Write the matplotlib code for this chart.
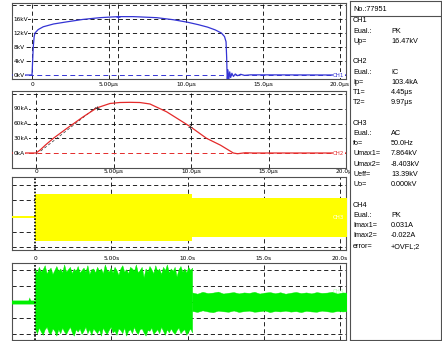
import numpy as np
import matplotlib.pyplot as plt

W, H = 442, 341

BLUE = '#3434d4'
RED = '#e42a2a'
YELLOW = '#ffff00'
GREEN = '#00f000'

#  CH1: chopped impulse voltage (us, kV)
CH1_T = [-1.4, 0.0, 0.03, 0.08, 0.14, 0.19, 0.4, 0.73, 1.4, 2.25, 3.3, 4.4,
         5.58, 6.6, 8.1, 9.2, 10.1, 10.8, 11.4, 11.9, 12.3, 12.5, 12.6,
         12.64, 12.68, 12.72, 12.78, 12.84, 12.9, 12.98, 13.08, 13.2, 13.35,
         13.55, 13.8, 14.2, 20.5]
CH1_V = [0, 0, 3.0, 8.0, 11.0, 12.0, 13.0, 13.8, 14.6, 15.2, 15.9, 16.4,
         16.7, 16.7, 16.4, 15.8, 15.1, 14.4, 13.7, 12.9, 12.0, 11.0, 9.5,
         5.0, -2.0, 1.5, -1.3, 0.9, -0.7, 0.5, -0.4, 0.3, -0.2, 0.2, -0.1,
         0.05, 0]

#  CH2: impulse current (us, kA)
CH2_T = [-1.6, 0.0, 0.26, 0.6, 1.12, 1.98, 3.05, 3.92, 4.77, 5.4, 6.06,
         6.7, 7.35, 8.43, 9.94, 11.0, 11.9, 12.73, 13.0, 13.5, 14.0, 20.1]
CH2_I = [0, 0, 6, 16, 30, 50, 74, 92, 101, 103, 103.4, 103, 100, 84, 54,
         30, 16, 0, -1.5, 0.5, 0, 0]
CH2_FRONT_T = [0.3, 3.95]
CH2_FRONT_I = [4, 95]
CH2_MARK_T = [3.92, 9.94]
CH2_MARK_I = [92, 54]

#  CH3: AC voltage envelope (s, kV)
CH3_T = [-1.6, 0.0, 0.0, 10.3, 10.3, 20.5]
CH3_UP = [0.1, 0.1, 7.0, 7.0, 5.7, 5.7]
CH3_LO = [-0.7, -0.7, -7.9, -7.9, -6.8, -6.8]

#  CH4: leakage current envelope (s, mA)
CH4_PRE_T = [-1.6, -0.45, -0.38, -0.3, 0.0]
CH4_PRE_UP = [1.2, 1.2, 3.2, 1.2, 1.2]
CH4_PRE_LO = [-1.2, -1.2, -1.2, -1.2, -1.2]
CH4_A_UP = [21, 18.5, 22, 19, 20.5, 23, 18, 20, 21.5, 17.5, 20, 22.5, 19.5,
            21, 18.5, 23.5, 19, 20.5, 22, 18, 21, 19.5, 22.5, 18.5, 20, 21.5,
            19, 23, 17.5, 20.5, 21, 18.5, 22, 19.5, 21, 18, 23.5, 20, 19,
            21.5, 18.5, 22, 20, 17, 21, 23, 19, 20.5, 18, 22, 21, 19.5, 23.5,
            18.5, 20, 22, 15.5, 21, 19, 22.5, 20.5, 18, 23, 19.5, 21, 17.5,
            22, 20, 23.5, 18.5, 21, 19.5, 22, 16, 20.5, 22.5, 19, 21, 18.5,
            22, 20, 21.5]
CH4_A_LO = [-17, -19.5, -16, -18.5, -20.5, -17, -15.5, -19, -20, -16.5,
            -18, -21, -17, -19.5, -16, -18.5, -20, -17.5, -15.5, -19,
            -21, -17, -18.5, -16.5, -20, -18, -15.5, -19.5, -17, -20.5,
            -16.5, -18, -19.5, -17, -21, -16, -18.5, -20, -17.5, -15.5,
            -19, -18, -20.5, -16.5, -17.5, -19.5, -16, -21, -18, -17,
            -19.5, -15.5, -18.5, -20, -17, -16.5, -19, -21, -17.5, -18,
            -16, -20, -18.5, -17, -19.5, -15.5, -18, -20.5, -17, -19,
            -16.5, -18.5, -20, -17.5, -16, -19.5, -18, -17, -20.5, -18.5,
            -16.5, -19]
CH4_B_UP = [6.0, 5.2, 6.4, 5.6, 5.9, 6.5, 5.3, 5.8, 6.2, 5.4, 6.0, 5.7,
            6.4, 5.3, 5.9, 6.2, 5.5, 6.1, 5.2, 5.8, 6.3, 5.6, 6.0, 5.4,
            6.2, 5.7, 5.9, 6.4, 5.3, 6.0, 5.8]
CH4_B_LO = [-5.6, -6.2, -5.2, -5.9, -6.4, -5.4, -5.8, -6.1, -5.3, -6.2,
            -5.7, -5.4, -6.1, -5.8, -5.3, -6.3, -5.6, -5.9, -5.4, -6.0,
            -5.7, -6.3, -5.5, -5.9, -6.1, -5.4, -5.8, -6.2, -5.6, -5.9, -5.7]

TIME_TICKS = [0, 5, 10, 15, 20]
US_LABELS = ['0', '5.00\u00b5s', '10.0\u00b5s', '15.0\u00b5s', '20.0\u00b5s']
S_LABELS = ['0', '5.00s', '10.0s', '15.0s', '20.0s']

#  (name, value, line number) - blank lines between channel groups
INFO_LINES = [('CH1', '', 0), ('Eual.:', 'PK', 1), ('Up=', '16.47kV', 2),
              ('CH2', '', 4), ('Eual.:', 'IC', 5), ('Ip=', '103.4kA', 6),
              ('T1=', '4.45\u00b5s', 7), ('T2=', '9.97\u00b5s', 8),
              ('CH3', '', 10), ('Eual.:', 'AC', 11), ('fo=', '50.0Hz', 12),
              ('Umax1=', '7.864kV', 13), ('Umax2=', '-8.403kV', 14),
              ('Ueff=', '13.39kV', 15), ('Uo=', '0.000kV', 16),
              ('CH4', '', 18), ('Eual.:', 'PK', 19),
              ('Imax1=', '0.031A', 20), ('Imax2=', '-0.022A', 21),
              ('error=', '+OVFL;2', 22)]

GRID = dict(color='black', lw=0.6, ls=(0, (5, 3.5)), zorder=1)
INFO_FONT = dict(fontsize=5.2, family='Liberation Sans', va='baseline')

FIG = plt.figure(figsize=(W / 100, H / 100), dpi=100)


def panel(left, top, right, bottom, xlim, ylim):
    """Axes placed by pixel box"""
    axis = FIG.add_axes([left / W, 1 - bottom / H,
                         (right - left) / W, (bottom - top) / H])
    axis.set_xlim(xlim)
    axis.set_ylim(ylim)
    axis.set_yticks([])
    for spine in axis.spines.values():
        spine.set_color('#505050')
        spine.set_linewidth(0.8)
    return axis


def grid(axis, xs, ys, trigger=False):
    """Oscilloscope style dashed grid"""
    for x_value in xs:
        if trigger and x_value == 0:
            axis.axvline(0, color='black', lw=1.2, ls=(0, (1, 1)), zorder=4)
        else:
            axis.axvline(x_value, **GRID)
    for y_value in ys:
        axis.axhline(y_value, **GRID)


def time_labels(axis, labels, pad):
    axis.set_xticks(TIME_TICKS)
    axis.set_xticklabels(labels)
    axis.tick_params(axis='x', length=0, pad=pad, labelsize=4.2)


def y_labels(axis, values, unit):
    for value in values:
        axis.text(0.004, value, '%d%s' % (value, unit), fontsize=4.2,
                  ha='left', va='center',
                  transform=axis.get_yaxis_transform(), zorder=5,
                  bbox=dict(fc='white', ec='none', pad=0.2))


def channel_tag(axis, text, y_value, colour, bg):
    axis.text(0.995, y_value, text, fontsize=4, color=colour, ha='right',
              va='center', transform=axis.get_yaxis_transform(), zorder=6,
              bbox=None if bg is None else dict(fc=bg, ec='none', pad=0.3))


#  Panel 1
AX1 = panel(12, 3, 346, 79, (-1.30, 20.39), (-1.14, 20.6))
grid(AX1, TIME_TICKS + [5.58], [4, 8, 12, 16, 20])
AX1.axhline(0, color=BLUE, lw=0.7, ls=(0, (5, 3.5)), zorder=1)
AX1.plot(CH1_T, CH1_V, color=BLUE, lw=0.9, zorder=3)
AX1.plot([5.58], [16.7], marker='+', ms=3, mew=0.6, color=BLUE, zorder=3)
y_labels(AX1, [16, 12, 8, 4, 0], 'kV')
channel_tag(AX1, 'CH1', 0, BLUE, 'white')
time_labels(AX1, US_LABELS, 2.5)

#  Panel 2
AX2 = panel(12, 91, 346, 168, (-1.55, 20.0), (-30.6, 126.5))
grid(AX2, TIME_TICKS, [-30, 30, 60, 90, 120])
AX2.axhline(0, color=RED, lw=0.7, ls=(0, (5, 3.5)), zorder=1)
AX2.plot(CH2_FRONT_T, CH2_FRONT_I, color='#303030', lw=0.5,
         ls=(0, (4, 3)), zorder=2)
AX2.plot(CH2_T, CH2_I, color=RED, lw=0.9, zorder=3)
AX2.plot(CH2_MARK_T, CH2_MARK_I, ls='none', marker='+', ms=3, mew=0.6,
         color='#303030', zorder=4)
y_labels(AX2, [90, 60, 30, 0], 'kA')
channel_tag(AX2, 'CH2', 0, RED, 'white')
time_labels(AX2, US_LABELS, 1.0)

#  Panel 3
AX3 = panel(12, 177, 346, 250, (-1.51, 20.39), (-10.8, 12.4))
grid(AX3, TIME_TICKS, [-10, -5, 0, 5, 10], trigger=True)
AX3.fill_between(CH3_T, CH3_LO, CH3_UP, color=YELLOW, lw=0, zorder=3)
channel_tag(AX3, 'CH3', -0.6, 'white', None)
time_labels(AX3, S_LABELS, 4.0)

#  Panel 4
AX4 = panel(12, 263, 346, 340, (-1.51, 20.39), (-23.75, 24.4))
grid(AX4, TIME_TICKS, [-20, -10, 0, 10, 20], trigger=True)
CH4_A_T = np.linspace(0.0, 10.3, len(CH4_A_UP))
CH4_B_T = np.linspace(10.3, 20.5, len(CH4_B_UP))
AX4.fill_between(CH4_PRE_T, CH4_PRE_LO, CH4_PRE_UP, color=GREEN, lw=0,
                 zorder=3)
AX4.fill_between(CH4_A_T, CH4_A_LO, CH4_A_UP, color=GREEN, lw=0.3,
                 ec=GREEN, zorder=3)
AX4.fill_between(CH4_B_T, CH4_B_LO, CH4_B_UP, color=GREEN, lw=0.3,
                 ec=GREEN, zorder=3)
channel_tag(AX4, 'CH4', 6.5, '#b8ffb8', None)
AX4.set_xticks([])

#  Info panel
INFO = FIG.add_axes([350 / W, 1 / H, 91 / W, 339 / H])
INFO.set_xlim(0, 91)
INFO.set_ylim(339, 0)
INFO.set_xticks([])
INFO.set_yticks([])
for SPINE in INFO.spines.values():
    SPINE.set_color('#505050')
    SPINE.set_linewidth(0.8)
INFO.axhline(15, color='#505050', lw=0.8)
INFO.text(3, 10, 'No.:77951', **INFO_FONT)
for NAME, VALUE, LINE in INFO_LINES:
    Y_POS = 21.5 + 10.23 * LINE
    INFO.text(3, Y_POS, NAME, **INFO_FONT)
    if VALUE:
        INFO.text(41, Y_POS, VALUE, **INFO_FONT)

plt.savefig('out.png', dpi=100)
